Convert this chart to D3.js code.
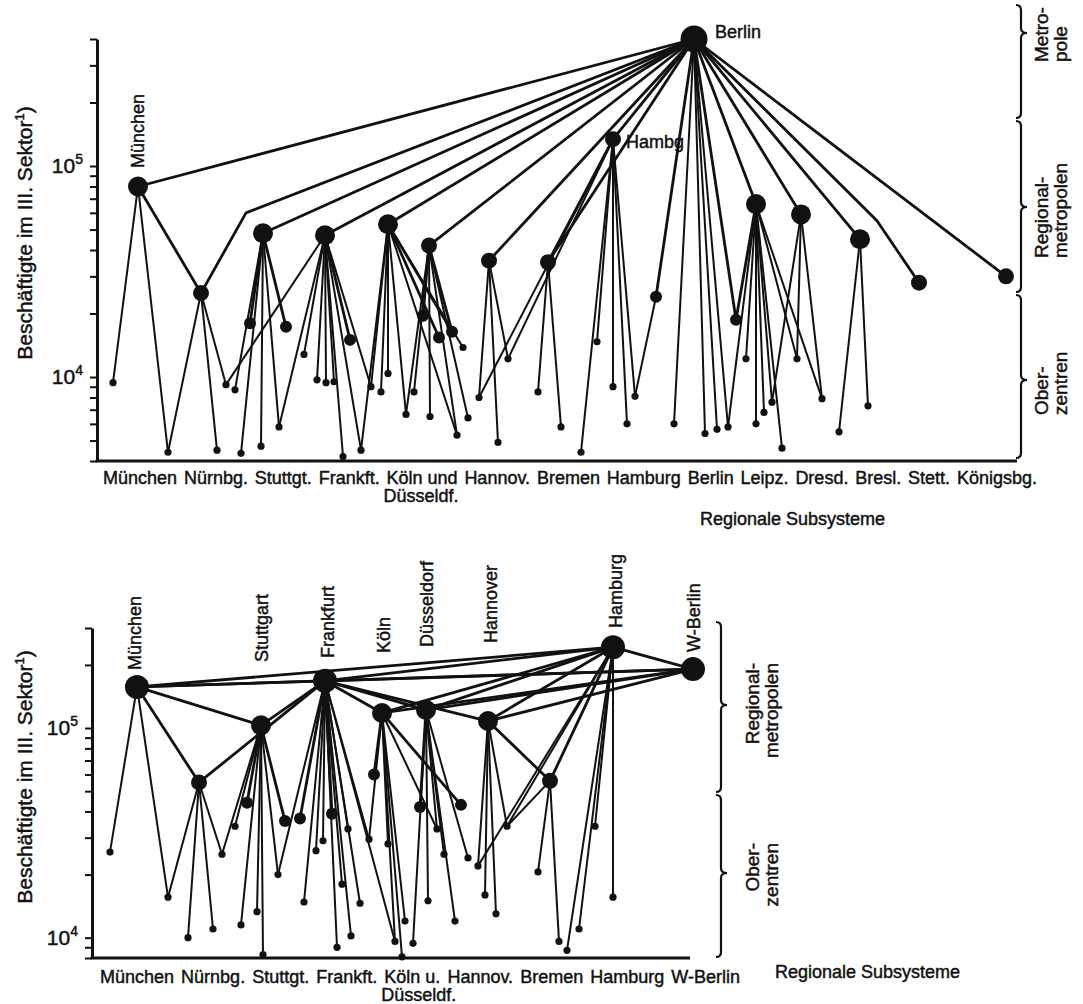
<!DOCTYPE html>
<html>
<head>
<meta charset="utf-8">
<script src="https://cdn.jsdelivr.net/npm/d3@7"></script>
<style>
  body { margin: 0; background: #fff; }
  text { font-family: "Liberation Sans", Arial, Helvetica, sans-serif; fill: #111; stroke: #111; stroke-width: 0.45; }
</style>
</head>
<body>
<svg id="chart" width="1083" height="1004"></svg>
<script>
// ---------- data: upper chart (Deutsches Reich) ----------
const topSubsystems = ['München', 'Nürnbg.', 'Stuttgt.', 'Frankft.', 'Köln und', 'Hannov.', 'Bremen',
  'Hamburg', 'Berlin', 'Leipz.', 'Dresd.', 'Bresl.', 'Stett.', 'Königsbg.'];

// [id, position on subsystem axis, employees in tertiary sector (thousands), rank]
const topNodes = [
  ['München', 41, 80, 3], ['mu1', 16, 9.4, 0], ['mu2', 71, 4.4, 0],
  ['Nürnberg', 104, 25, 2], ['nu1', 120, 4.5, 0], ['nu2', 129, 9.2, 0],
  ['Stuttgart', 166, 48, 3], ['st1', 153, 18, 1], ['st2', 138, 8.7, 0], ['st3', 144, 4.35, 0],
  ['st4', 164, 4.7, 0], ['st5', 182, 5.8, 0], ['st6', 189, 17.3, 1],
  ['Frankfurt', 228, 47, 3], ['fr1', 207, 12.8, 0], ['fr2', 220, 9.7, 0], ['fr3', 229, 9.4, 0],
  ['fr4', 237, 9.5, 0], ['fr5', 253, 15, 1], ['fr6', 246, 4.2, 0], ['fr7', 264, 4.5, 0], ['fr8', 274, 9.0, 0],
  ['Köln', 291, 53, 3], ['kö1', 284, 8.5, 0], ['kö2', 291, 10.4, 0], ['kö3', 309, 6.65, 0], ['kö4', 317, 8.5, 0],
  ['Düsseldorf', 332, 42, 2], ['du1', 326, 19.5, 1], ['du2', 333, 6.5, 0], ['du3', 342, 15.4, 1],
  ['du4', 355, 16.4, 1], ['du5', 366, 13.8, 0], ['du6', 360, 5.3, 0], ['du7', 371, 6.4, 0],
  ['Hannover', 392, 35.6, 2], ['ha1', 382, 8.0, 0], ['ha2', 401, 4.9, 0], ['ha3', 411, 12.2, 0],
  ['Bremen', 451, 35, 2], ['br1', 441, 8.5, 0], ['br2', 464, 5.8, 0],
  ['Hamburg', 516, 134, 2], ['hh1', 484, 4.4, 0], ['hh2', 500, 14.7, 0], ['hh3', 516, 9.0, 0],
  ['hh4', 530, 6.0, 0], ['hh5', 538, 8.1, 0],
  ['Berlin', 597, 400, 5], ['be1', 559, 24, 1], ['be2', 577, 6.0, 0], ['be3', 608, 5.4, 0],
  ['be4', 620, 5.65, 0], ['be5', 631, 5.8, 0], ['be6', 639, 18.7, 1],
  ['Leipzig', 659, 66, 3], ['le1', 649, 12.2, 0], ['le2', 659, 6.0, 0], ['le3', 667, 6.8, 0],
  ['le4', 675, 7.6, 0], ['le5', 685, 4.6, 0],
  ['Dresden', 704, 59, 3], ['dr1', 700, 12.2, 0], ['dr2', 725, 7.9, 0],
  ['Breslau', 763, 45, 3], ['bs1', 742, 5.5, 0], ['bs2', 771, 7.3, 0],
  ['Stettin', 822, 28, 2], ['Königsberg', 909, 30, 2]
];

// [from, to, optional bend: [position, thousands]]
const topLinks = [
  ['München', 'Berlin'], ['München', 'mu1'], ['München', 'mu2'],
  ['Nürnberg', 'München'], ['Nürnberg', 'Berlin', [149, 60]], ['Nürnberg', 'mu2'], ['Nürnberg', 'nu1'], ['Nürnberg', 'nu2'],
  ['Stuttgart', 'Berlin'], ['Stuttgart', 'st1'], ['Stuttgart', 'st2'], ['Stuttgart', 'st3'],
  ['Stuttgart', 'st4'], ['Stuttgart', 'st5'], ['Stuttgart', 'st6'],
  ['Frankfurt', 'Berlin'], ['Frankfurt', 'nu2'], ['Frankfurt', 'st5'], ['Frankfurt', 'fr1'], ['Frankfurt', 'fr2'],
  ['Frankfurt', 'fr3'], ['Frankfurt', 'fr4'], ['Frankfurt', 'fr5'], ['Frankfurt', 'fr6'], ['Frankfurt', 'fr7'], ['Frankfurt', 'fr8'],
  ['Köln', 'Berlin'], ['Köln', 'fr7'], ['Köln', 'fr8'], ['Köln', 'kö1'], ['Köln', 'kö2'], ['Köln', 'kö3'],
  ['Köln', 'du3'], ['Köln', 'du4'], ['Köln', 'du5'], ['Köln', 'du6'],
  ['Düsseldorf', 'Berlin'], ['Düsseldorf', 'kö3'], ['Düsseldorf', 'kö4'], ['Düsseldorf', 'du1'], ['Düsseldorf', 'du2'],
  ['Düsseldorf', 'du4'], ['Düsseldorf', 'du6'], ['Düsseldorf', 'du7'],
  ['Hannover', 'Berlin'], ['Hannover', 'ha1'], ['Hannover', 'ha2'], ['Hannover', 'ha3'],
  ['Bremen', 'Berlin'], ['Bremen', 'Hamburg'], ['Bremen', 'br1'], ['Bremen', 'br2'],
  ['Hamburg', 'Berlin'], ['Hamburg', 'ha1'], ['Hamburg', 'ha3'], ['Hamburg', 'hh1'], ['Hamburg', 'hh2'],
  ['Hamburg', 'hh3'], ['Hamburg', 'hh4'], ['Hamburg', 'hh5'],
  ['Berlin', 'be1'], ['be1', 'hh5'], ['Berlin', 'be2'], ['Berlin', 'be3'], ['Berlin', 'be4'], ['Berlin', 'be5'], ['Berlin', 'be6'],
  ['Berlin', 'Leipzig'], ['Berlin', 'Dresden'], ['Berlin', 'Breslau'], ['Berlin', 'Stettin', [780, 55]], ['Berlin', 'Königsberg'],
  ['Leipzig', 'be5'], ['Leipzig', 'be6'], ['Leipzig', 'le1'], ['Leipzig', 'le2'], ['Leipzig', 'le3'],
  ['Leipzig', 'le4'], ['Leipzig', 'le5'], ['Leipzig', 'dr1'], ['Leipzig', 'dr2'],
  ['Dresden', 'le4'], ['Dresden', 'dr1'], ['Dresden', 'dr2'],
  ['Breslau', 'bs1'], ['Breslau', 'bs2']
];

// ---------- data: lower chart (Bundesrepublik) ----------
const botSubsystems = ['München', 'Nürnbg.', 'Stuttgt.', 'Frankft.', 'Köln u.', 'Hannov.', 'Bremen', 'Hamburg', 'W-Berlin'];

const botNodes = [
  ['München', 45, 157, 4], ['mu1', 18, 25.6, 0], ['mu2', 76, 15.6, 0],
  ['Nürnberg', 107, 55, 2], ['nu1', 96, 10, 0], ['nu2', 121, 11, 0], ['nu3', 130, 25, 0],
  ['Stuttgart', 169, 103, 3], ['st1', 143, 34, 0], ['st2', 155, 44, 1], ['st3', 149, 11.5, 0],
  ['st4', 165, 13.3, 0], ['st5', 171, 8.3, 0], ['st6', 186, 20, 0], ['st7', 193, 36, 1],
  ['Frankfurt', 233, 168, 4], ['fr1', 208, 37, 1], ['fr2', 212, 14.8, 0], ['fr3', 224, 26, 0],
  ['fr4', 231, 29, 0], ['fr5', 240, 39, 1], ['fr6', 245, 9.0, 0], ['fr7', 250, 18, 0],
  ['fr8', 256, 33, 0], ['fr9', 259, 10.2, 0], ['fr10', 268, 14.6, 0], ['fr11', 277, 29.5, 0],
  ['Köln', 290, 118, 3], ['kö1', 282, 60, 1], ['kö2', 296, 28, 0], ['kö3', 303, 9.6, 0],
  ['kö4', 310, 8.1, 0], ['kö5', 313, 12, 0], ['kö6', 321, 9.4, 0],
  ['Düsseldorf', 334, 122, 3], ['du1', 328, 42, 1], ['du2', 336, 15, 0], ['du3', 345, 33, 0],
  ['du4', 352, 25, 0], ['du5', 363, 12, 0], ['du6', 369, 43, 1], ['du7', 376, 24, 0],
  ['Hannover', 396, 108, 3], ['ha1', 386, 22, 0], ['ha2', 393, 16, 0], ['ha3', 404, 13, 0], ['ha4', 415, 34, 0],
  ['Bremen', 458, 56, 2], ['bm1', 446, 20.6, 0], ['bm2', 467, 9.6, 0],
  ['Hamburg', 521, 243, 4], ['hh1', 475, 8.7, 0], ['hh2', 487, 11, 0], ['hh3', 503, 34, 0], ['hh4', 521, 15.6, 0],
  ['W-Berlin', 601, 191, 4]
];

const botLinks = [
  ['München', 'Hamburg'], ['München', 'W-Berlin'], ['München', 'Frankfurt'], ['München', 'Stuttgart'],
  ['München', 'mu1'], ['München', 'mu2'],
  ['Nürnberg', 'München'], ['Nürnberg', 'Frankfurt'], ['Nürnberg', 'mu2'], ['Nürnberg', 'nu1'], ['Nürnberg', 'nu2'], ['Nürnberg', 'nu3'],
  ['Stuttgart', 'Frankfurt'], ['Stuttgart', 'nu3'], ['Stuttgart', 'st1'], ['Stuttgart', 'st2'], ['Stuttgart', 'st3'],
  ['Stuttgart', 'st4'], ['Stuttgart', 'st5'], ['Stuttgart', 'st6'], ['Stuttgart', 'st7'],
  ['Frankfurt', 'Hamburg'], ['Frankfurt', 'W-Berlin'], ['Frankfurt', 'Köln'], ['Frankfurt', 'Düsseldorf'], ['Frankfurt', 'Hannover'],
  ['Frankfurt', 'st6'], ['Frankfurt', 'fr1'], ['Frankfurt', 'fr2'], ['Frankfurt', 'fr3'], ['Frankfurt', 'fr4'],
  ['Frankfurt', 'fr5'], ['Frankfurt', 'fr6'], ['Frankfurt', 'fr7'], ['Frankfurt', 'fr8'], ['Frankfurt', 'fr9'],
  ['Frankfurt', 'fr10'], ['Frankfurt', 'fr11'], ['Frankfurt', 'kö3'],
  ['Köln', 'Hamburg'], ['Köln', 'W-Berlin'], ['Köln', 'fr11'], ['Köln', 'kö1'], ['Köln', 'kö2'], ['Köln', 'kö3'],
  ['Köln', 'kö4'], ['Köln', 'kö5'], ['Köln', 'du3'], ['Köln', 'du6'],
  ['Düsseldorf', 'Hamburg'], ['Düsseldorf', 'W-Berlin'], ['Düsseldorf', 'kö6'], ['Düsseldorf', 'du1'], ['Düsseldorf', 'du2'],
  ['Düsseldorf', 'du3'], ['Düsseldorf', 'du4'], ['Düsseldorf', 'du5'], ['Düsseldorf', 'du7'],
  ['Hannover', 'Hamburg'], ['Hannover', 'W-Berlin'], ['Hannover', 'Bremen'], ['Hannover', 'ha1'], ['Hannover', 'ha2'],
  ['Hannover', 'ha3'], ['Hannover', 'ha4'],
  ['Bremen', 'Hamburg'], ['Bremen', 'bm1'], ['Bremen', 'bm2'], ['Bremen', 'ha4'],
  ['Hamburg', 'W-Berlin'], ['Hamburg', 'ha1'], ['Hamburg', 'ha4'], ['Hamburg', 'hh1'], ['Hamburg', 'hh2'],
  ['Hamburg', 'hh3'], ['Hamburg', 'hh4']
];

const yTitle = 'Beschäftigte im III. Sektor';
const xTitle = 'Regionale Subsysteme';

// ---------- drawing ----------
const radius = [3.6, 6, 8, 10, 12, 13.5];
const svg = d3.select('#chart');

function brace(g, xs, y0, ym, y1) {
  const p = `M${xs - 5},${y0} Q${xs},${y0} ${xs},${y0 + 5} L${xs},${ym - 5} Q${xs},${ym} ${xs + 6},${ym}` +
    ` Q${xs},${ym} ${xs},${ym + 5} L${xs},${y1 - 5} Q${xs},${y1} ${xs - 5},${y1}`;
  g.append('path').attr('d', p).attr('fill', 'none').attr('stroke', '#111').attr('stroke-width', 2.2);
}

function drawPanel(opt) {
  const g = svg.append('g');
  const x = d3.scaleLinear().domain(opt.xDomain).range(opt.xRange);
  const y = d3.scaleLog().domain(opt.yDomain).range(opt.yRange);
  const byId = new Map(opt.nodes.map(d => [d[0], d]));
  const px = d => x(d[1]);
  const py = d => y(d[2] * 1000);

  // y axis with log ticks
  const ax = g.append('g')
    .attr('transform', `translate(${opt.xRange[0]},0)`)
    .call(d3.axisLeft(y).tickSize(7).tickSizeOuter(0).tickFormat(''));
  ax.select('.domain').attr('stroke', '#111').attr('stroke-width', 3);
  ax.selectAll('.tick line').attr('stroke', '#111').attr('stroke-width', 2);

  [1e4, 1e5].forEach((v, i) => {
    const t = g.append('text')
      .attr('x', opt.xRange[0] - 14)
      .attr('y', y(v) + 7)
      .attr('text-anchor', 'end')
      .style('font-size', '21px')
      .text('10');
    t.append('tspan').attr('dy', -9).style('font-size', '14px').text(i === 0 ? '4' : '5');
  });

  // x axis line
  g.append('line')
    .attr('x1', opt.xRange[0] - 1.5).attr('x2', opt.axisEnd)
    .attr('y1', opt.yRange[0]).attr('y2', opt.yRange[0])
    .attr('stroke', '#111').attr('stroke-width', 3);

  // y title
  const yt = g.append('text')
    .attr('transform', `translate(${opt.yTitleX},${opt.yTitleY}) rotate(-90)`)
    .attr('text-anchor', 'middle')
    .style('font-size', '21px')
    .text(yTitle);
  yt.append('tspan').attr('dy', -8).style('font-size', '13px').text('1');
  yt.append('tspan').attr('dy', 8).text(')');

  // links
  const linkW = (a, b) => Math.min(a[3], b[3]) === 0 ? 2 : 2.8;
  g.append('g').selectAll('path')
    .data(opt.links)
    .join('path')
    .attr('fill', 'none')
    .attr('stroke', '#111')
    .attr('stroke-linejoin', 'round')
    .attr('stroke-width', d => linkW(byId.get(d[0]), byId.get(d[1])))
    .attr('d', d => {
      const a = byId.get(d[0]), b = byId.get(d[1]);
      const pts = [[px(a), py(a)]];
      if (d[2]) pts.push([x(d[2][0]), y(d[2][1] * 1000)]);
      pts.push([px(b), py(b)]);
      return d3.line()(pts);
    });

  // nodes
  g.append('g').selectAll('circle')
    .data(opt.nodes)
    .join('circle')
    .attr('cx', px)
    .attr('cy', py)
    .attr('r', d => radius[d[3]])
    .attr('fill', '#111');

  // subsystem labels: one running line of text, evenly spaced between two ends
  const labels = g.append('g').selectAll('text')
    .data(opt.subsystems)
    .join('text')
    .attr('y', opt.labelY)
    .style('font-size', '18px')
    .text(d => d);
  const widths = labels.nodes().map(n => n.getComputedTextLength());
  const gap = (opt.labelSpan[1] - opt.labelSpan[0] - d3.sum(widths)) / (widths.length - 1);
  let cur = opt.labelSpan[0];
  const starts = widths.map(w => { const s = cur; cur += w + gap; return s; });
  labels.attr('x', (d, i) => starts[i]);
  const k = opt.subsystems.indexOf(opt.secondLine.under);
  g.append('text')
    .attr('x', starts[k] - 3).attr('y', opt.labelY + 18)
    .style('font-size', '18px')
    .text(opt.secondLine.text);
  g.append('text')
    .attr('x', opt.xTitle[0]).attr('y', opt.xTitle[1])
    .style('font-size', '18px')
    .text(xTitle);

  // city labels
  opt.cityLabels.forEach(c => {
    const n = byId.get(c.id);
    if (c.rotate) {
      g.append('text')
        .attr('transform', `translate(${px(n) + c.dx + 6.5},${c.y}) rotate(-90)`)
        .style('font-size', '18px')
        .text(c.text);
    } else {
      g.append('text')
        .attr('x', px(n) + c.dx).attr('y', c.y)
        .style('font-size', '18px')
        .text(c.text);
    }
  });

  // braces and level labels
  opt.braces.forEach(b => brace(g, opt.braceX, b.y0, b.ym, b.y1));
  opt.levels.forEach(l => {
    l.lines.forEach((s, i) => {
      g.append('text')
        .attr('transform', `translate(${opt.levelX + i * 19},${l.y}) rotate(-90)`)
        .attr('text-anchor', l.anchor)
        .style('font-size', '19px')
        .text(s);
    });
  });
}

drawPanel({
  nodes: topNodes, links: topLinks,
  xDomain: [0, 918], xRange: [97, 1015], axisEnd: 1017,
  yDomain: [4000, 400000], yRange: [461, 39],
  subsystems: topSubsystems, labelY: 484, labelSpan: [103, 1037],
  secondLine: { text: 'Düsseldf.', under: 'Köln und' },
  xTitle: [700, 525],
  yTitleX: 32, yTitleY: 233,
  cityLabels: [
    { id: 'München', text: 'München', rotate: true, dx: -1, y: 168 },
    { id: 'Berlin', text: 'Berlin', dx: 21, y: 38 },
    { id: 'Hamburg', text: 'Hambg', dx: 13, y: 148 }
  ],
  braceX: 1021,
  braces: [{ y0: 5, ym: 33, y1: 118 }, { y0: 121, ym: 207, y1: 292 }, { y0: 295, ym: 380, y1: 458 }],
  levelX: 1048,
  levels: [
    { lines: ['Metro-', 'pole'], y: 62, anchor: 'start' },
    { lines: ['Regional-', 'metropolen'], y: 258, anchor: 'start' },
    { lines: ['Ober-', 'zentren'], y: 415, anchor: 'start' }
  ]
});

drawPanel({
  nodes: botNodes, links: botLinks,
  xDomain: [0, 598], xRange: [92, 690], axisEnd: 690,
  yDomain: [8000, 300000], yRange: [958, 628],
  subsystems: botSubsystems, labelY: 983, labelSpan: [100, 740],
  secondLine: { text: 'Düsseldf.', under: 'Köln u.' },
  xTitle: [775, 978],
  yTitleX: 32, yTitleY: 777,
  cityLabels: [
    { id: 'München', text: 'München', rotate: true, dx: -3, y: 670 },
    { id: 'Stuttgart', text: 'Stuttgart', rotate: true, dx: 0, y: 662 },
    { id: 'Frankfurt', text: 'Frankfurt', rotate: true, dx: 2, y: 658 },
    { id: 'Köln', text: 'Köln', rotate: true, dx: 1, y: 653 },
    { id: 'Düsseldorf', text: 'Düsseldorf', rotate: true, dx: 0, y: 647 },
    { id: 'Hannover', text: 'Hannover', rotate: true, dx: 2, y: 643 },
    { id: 'Hamburg', text: 'Hamburg', rotate: true, dx: 2, y: 628 },
    { id: 'W-Berlin', text: 'W-Berlin', rotate: true, dx: 0, y: 652 }
  ],
  braceX: 721,
  braces: [{ y0: 622, ym: 705, y1: 792 }, { y0: 795, ym: 873, y1: 957 }],
  levelX: 759,
  levels: [
    { lines: ['Regional-', 'metropolen'], y: 663, anchor: 'end' },
    { lines: ['Ober-', 'zentren'], y: 843, anchor: 'end' }
  ]
});
</script>
</body>
</html>
